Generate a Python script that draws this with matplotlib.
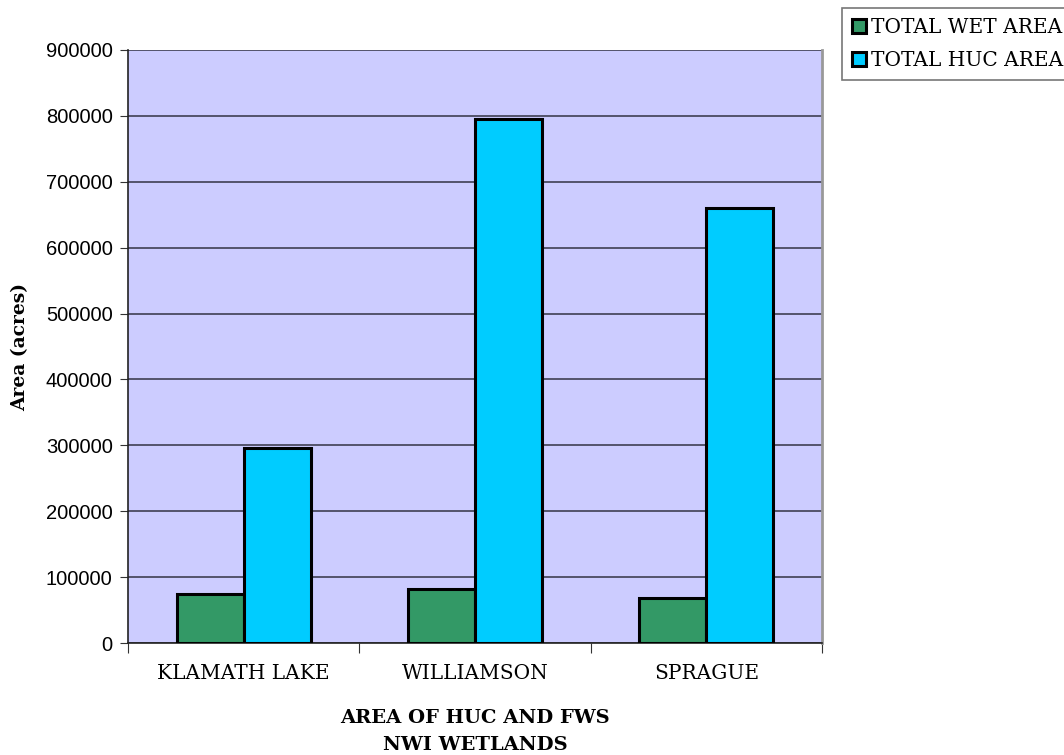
import numpy as np
import matplotlib.pyplot as plt

regions = ["KLAMATH LAKE", "WILLIAMSON", "SPRAGUE"]
wet_area = [74500, 82000, 67800]
huc_area = [295500, 796000, 659700]
yticks = [0, 100000, 200000, 300000, 400000, 500000, 600000, 700000, 800000, 900000]

fig = plt.figure(figsize=(10.64, 7.55), dpi=100)
ax = fig.add_axes([0.1203, 0.1483, 0.6523, 0.7855])
ax.set_facecolor("#CCCCFF")

x = np.arange(len(regions))
w = 0.29
b1 = ax.bar(x - w / 2, wet_area, w, color="#339966", edgecolor="black", linewidth=2.2, label="TOTAL WET AREA", zorder=3)
b2 = ax.bar(x + w / 2, huc_area, w, color="#00CCFF", edgecolor="black", linewidth=2.2, label="TOTAL HUC AREA", zorder=3)

ax.set_xlim(-0.5, 2.5)
ax.set_ylim(0, 900000)
ax.set_yticks(yticks)
ax.set_yticklabels([str(v) for v in yticks], family="Liberation Sans", fontsize=14.5)
ax.yaxis.grid(True, color="#333344", linewidth=1.1, zorder=1)

ax.set_xticks([-0.5, 0.5, 1.5, 2.5])
ax.set_xticklabels([])
ax.set_xticks(x, minor=True)
ax.set_xticklabels(regions, minor=True, family="DejaVu Serif", fontsize=14.5)
ax.tick_params(axis="x", which="minor", length=0, pad=15)
ax.tick_params(axis="x", which="major", length=7, direction="out", color="#333333")
ax.tick_params(axis="y", length=6, color="#333333", pad=5)

for side in ["left", "bottom"]:
    ax.spines[side].set_color("#222222")
    ax.spines[side].set_linewidth(1.2)
ax.spines["top"].set_visible(False)
ax.spines["right"].set_color("#999999")
ax.spines["right"].set_linewidth(2)

# axis title under the categories, two lines
fig.text(475 / 1064, 1 - 718 / 755, "AREA OF HUC AND FWS", family="DejaVu Serif", fontweight="bold",
         fontsize=14, ha="center", va="center")
fig.text(475 / 1064, 1 - 745 / 755, "NWI WETLANDS", family="DejaVu Serif", fontweight="bold",
         fontsize=14, ha="center", va="center")
ax.set_ylabel("Area (acres)", family="DejaVu Serif", fontweight="bold", fontsize=13.5, labelpad=12)

leg = fig.legend(handles=[b1, b2], loc="upper left", bbox_to_anchor=(842 / 1064, 1 - 8 / 755),
                 prop={"family": "DejaVu Serif", "size": 14.5}, frameon=True, fancybox=False,
                 edgecolor="#555555", handlelength=0.7, handleheight=0.7, handletextpad=0.25,
                 borderpad=0.5, labelspacing=0.7, borderaxespad=0)
leg.get_frame().set_linewidth(1.2)

fig.savefig("out.png", dpi=100)
